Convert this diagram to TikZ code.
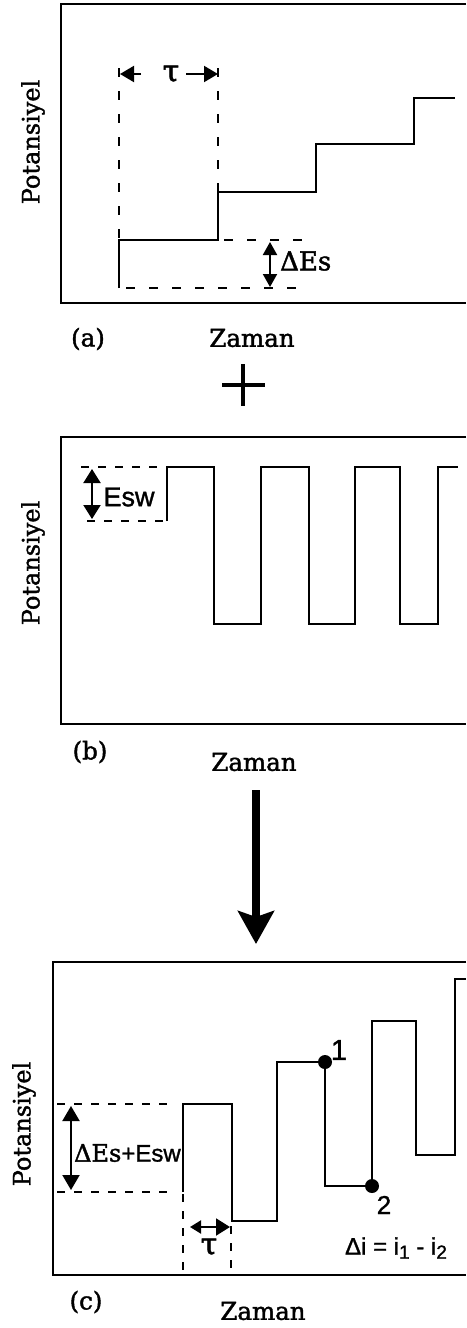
\documentclass[tikz,border=0pt]{standalone}
\usepackage{fontspec}
\setmainfont{DejaVu Serif}[FakeBold=1.6]
\newfontfamily\sansf{Liberation Sans}[FakeBold=1.2]
\usetikzlibrary{arrows.meta}
\begin{document}
\begin{tikzpicture}[x=1pt,y=-1pt,
  frame/.style={line width=2.8pt, line join=miter},
  wave/.style={line width=2.2pt, line join=miter},
  dsh/.style={line width=2pt, dash pattern=on 8pt off 9pt},
  dsha/.style={line width=2pt, dash pattern=on 9pt off 14pt},
  dim/.style={line width=2pt},
  lbl/.style={inner sep=0pt, font=\fontsize{24.5}{26}\selectfont},
  axl/.style={inner sep=0pt, rotate=90, font=\fontsize{24}{26}\selectfont},
  sns/.style={inner sep=0pt, font=\sansf\fontsize{27}{29}\selectfont},
  dot/.style={fill=black}
]
\useasboundingbox (0,0) rectangle (466,1328);

% ---------- panel (a) ----------
\draw[frame] (466,4) -- (61,4) -- (61,303) -- (466,303);
\draw[wave] (119,288) -- (119,240) -- (218,240) -- (218,192) -- (316,192) -- (316,144) -- (414,144) -- (414,98) -- (455,98);
\draw[dsha] (119,68) -- (119,240);
\draw[dsha] (218,68) -- (218,192);
\draw[dsha] (224,240) -- (302,240);
\draw[dsha] (126,288) -- (302,288);
\node[lbl, font=\fontsize{30}{32}\selectfont] (taua) at (171,74) {τ};
\coordinate (ta1) at (141,74); \coordinate (ta2) at (120,74);
\coordinate (ta3) at (186,74); \coordinate (ta4) at (218,74);
\draw[dim,-{Triangle[width=16pt,length=14pt]}] (ta1) -- (ta2);
\draw[dim,-{Triangle[width=16pt,length=14pt]}] (ta3) -- (ta4);
\coordinate (dea1) at (270,242); \coordinate (dea2) at (270,287);
\draw[dim,{Triangle[width=14pt,length=13pt]}-{Triangle[width=14pt,length=13pt]}] (dea1) -- (dea2);
\node[lbl, anchor=west, font=\fontsize{26}{28}\selectfont] (dEs) at (280,261) {ΔEs};
\node[axl] (pa) at (33,142) {Potansiyel};
\node[lbl] (la) at (88,339) {(a)};
\node[lbl] (za) at (252,338) {Zaman};

% plus sign
\coordinate (p1) at (222,385); \coordinate (p2) at (265,385);
\coordinate (p3) at (243,364); \coordinate (p4) at (243,406);
\draw[line width=3.8pt] (p1) -- (p2);
\draw[line width=3.8pt] (p3) -- (p4);

% ---------- panel (b) ----------
\draw[frame] (466,437) -- (61,437) -- (61,724) -- (466,724);
\draw[wave] (167,521) -- (167,467) -- (214,467) -- (214,624) -- (261,624) -- (261,467) -- (309,467) -- (309,624) -- (355,624) -- (355,467) -- (400,467) -- (400,624) -- (438,624) -- (438,467) -- (458,467);
\draw[dsh] (81,467) -- (167,467);
\draw[dsh] (87,521) -- (167,521);
\coordinate (eb1) at (92,469); \coordinate (eb2) at (92,519);
\draw[dim,{Triangle[width=17pt,length=14pt]}-{Triangle[width=17pt,length=14pt]}] (eb1) -- (eb2);
\node[sns] (esw) at (129,497) {Esw};
\node[axl] (pb) at (33,563) {Potansiyel};
\node[lbl] (lb) at (90,752) {(b)};
\node[lbl] (zb) at (254,762) {Zaman};

% big arrow
\coordinate (ar1) at (256,790);
\coordinate (ar2) at (256,944);
\draw[line width=8.5pt, -{Stealth[width=36pt,length=33pt,inset=6pt]}] (ar1) -- (ar2);

% ---------- panel (c) ----------
\draw[frame] (466,962) -- (53,962) -- (53,1275) -- (466,1275);
\draw[wave] (183,1192) -- (183,1104) -- (232,1104) -- (232,1221) -- (277,1221) -- (277,1062) -- (325,1062) -- (325,1186) -- (372,1186) -- (372,1021) -- (416,1021) -- (416,1155) -- (455,1155) -- (455,979) -- (466,979);
\draw[dsh] (57,1104) -- (167,1104);
\draw[dsh] (57,1192) -- (167,1192);
\draw[dsh] (183,1194) -- (183,1270);
\draw[dsh] (231,1226) -- (231,1270);
\coordinate (ec1) at (71,1106); \coordinate (ec2) at (71,1190);
\draw[dim,{Triangle[width=17pt,length=15pt]}-{Triangle[width=17pt,length=15pt]}] (ec1) -- (ec2);
\node[inner sep=0pt, anchor=west] (dEsEsw) at (74,1153) {\fontsize{24}{26}\selectfont ΔEs\sansf +Esw};
\coordinate (tc1) at (190,1227); \coordinate (tc2) at (230,1227);
\draw[dim,{Triangle[width=13pt,length=11pt]}-{Triangle[width=17pt,length=14pt]}] (tc1) -- (tc2);
\node[lbl, font=\fontsize{30}{32}\selectfont] (tauc) at (209,1247) {τ};
\fill[dot] (325,1062) circle (7pt) coordinate (d1);
\fill[dot] (372,1186) circle (7pt) coordinate (d2);
\node[sns, font=\sansf\fontsize{29}{31}\selectfont] (n1) at (339,1050) {1};
\node[sns, font=\sansf\fontsize{26}{28}\selectfont] (n2) at (384,1205) {2};
\node[sns, font=\sansf\fontsize{24}{26}\selectfont] (di) at (396,1248) {Δi = i{\fontsize{19}{20}\selectfont\raisebox{-4pt}{1}} - i{\fontsize{19}{20}\selectfont\raisebox{-4pt}{2}}};
\node[axl] (pc) at (24,1124) {Potansiyel};
\node[lbl] (lc) at (86,1302) {(c)};
\node[lbl] (zc) at (263,1311) {Zaman};
\end{tikzpicture}
\end{document}
